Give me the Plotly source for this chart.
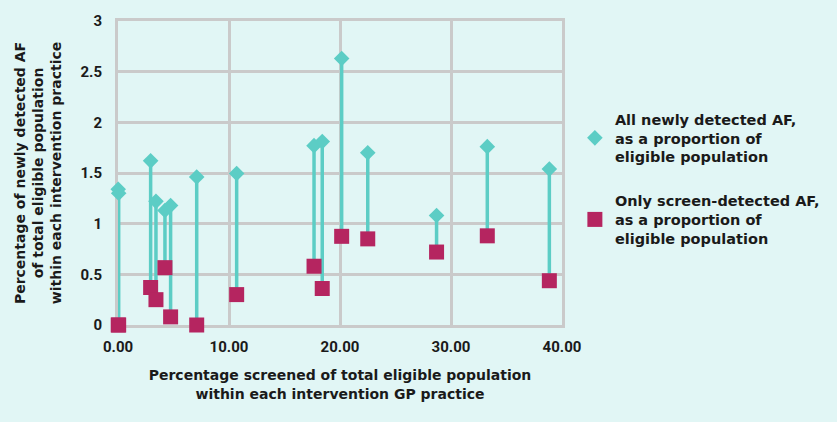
import plotly.graph_objects as go

# Percentage screened of eligible population (x)
pct_screened = [0.02, 0.06, 2.94, 3.42, 4.23, 4.74, 7.09, 10.69, 17.66, 18.40, 20.15, 22.50, 28.70, 33.27, 38.86]
# All newly detected AF (% of eligible population)
all_af = [1.34, 1.30, 1.62, 1.22, 1.13, 1.18, 1.46, 1.495, 1.77, 1.81, 2.63, 1.70, 1.08, 1.76, 1.54]
# Only screen-detected AF (% of eligible population)
screen_af = [0.0, 0.0, 0.37, 0.25, 0.566, 0.08, 0.0, 0.30, 0.58, 0.36, 0.875, 0.85, 0.72, 0.88, 0.437]

x_ticks = [0, 10, 20, 30, 40]
x_tick_labels = ["0.00", "10.00", "20.00", "30.00", "40.00"]
y_ticks = [0, 0.5, 1, 1.5, 2, 2.5, 3]
y_tick_labels = ["0", "0.5", "1", "1.5", "2", "2.5", "3"]

TEAL = "#5ccdc5"
MAGENTA = "#b52560"
BG = "#e1f6f5"
GRID = "#cacaca"
FONT = "DejaVu Sans"
TICKFONT = "Roboto"
TXT = "#1a1a1a"

stem_x, stem_y = [], []
for xv, a, s in zip(pct_screened, all_af, screen_af):
    stem_x += [xv, xv, None]
    stem_y += [s, a, None]

fig = go.Figure()
fig.add_trace(go.Scatter(x=stem_x, y=stem_y, mode="lines",
                         line=dict(color=TEAL, width=3.5),
                         showlegend=False, hoverinfo="skip", cliponaxis=False))
fig.add_trace(go.Scatter(x=pct_screened, y=all_af, mode="markers",
                         marker=dict(symbol="diamond", size=12, color=TEAL),
                         name="All newly detected AF,<br>as a proportion of<br>eligible population",
                         legendgroup="a", cliponaxis=False))
fig.add_trace(go.Scatter(x=pct_screened, y=screen_af, mode="markers",
                         marker=dict(symbol="square", size=15, color=MAGENTA),
                         name="Only screen-detected AF,<br>as a proportion of<br>eligible population",
                         legendgroup="b", cliponaxis=False))

fig.update_layout(
    width=837, height=422,
    margin=dict(l=118, r=275, t=16, b=97),
    paper_bgcolor=BG, plot_bgcolor=BG,
    font=dict(family=FONT, size=14, color=TXT, weight="bold"),
    showlegend=True,
    legend=dict(x=1.029, y=0.73, xanchor="left", yanchor="top",
                bgcolor="rgba(0,0,0,0)", tracegroupgap=22,
                font=dict(family=FONT, size=14.5, color=TXT, weight="bold"),
                itemwidth=30),
    xaxis=dict(range=[0, 40], tickvals=x_ticks, ticktext=x_tick_labels,
               showgrid=True, gridcolor=GRID, gridwidth=3,
               showline=True, linecolor=GRID, linewidth=3, mirror=True,
               zeroline=False, ticks="", ticklen=0, layer="below traces",
               ticklabelstandoff=6,
               tickfont=dict(family=TICKFONT, size=15, color=TXT, weight="bold"),
               title=dict(text="Percentage screened of total eligible population<br>within each intervention GP practice",
                          font=dict(family=FONT, size=14, color=TXT, weight="bold"), standoff=16)),
    yaxis=dict(range=[0, 3], tickvals=y_ticks, ticktext=y_tick_labels,
               showgrid=True, gridcolor=GRID, gridwidth=3,
               showline=True, linecolor=GRID, linewidth=3, mirror=True,
               zeroline=False, ticks="", ticklen=0, layer="below traces",
               ticklabelstandoff=10,
               tickfont=dict(family=TICKFONT, size=15, color=TXT, weight="bold"),
               title=dict(text="Percentage of newly detected AF<br>of total eligible population<br>within each intervention practice",
                          font=dict(family=FONT, size=14, color=TXT, weight="bold"), standoff=16)),
)

fig.write_html("out.html", config={"displayModeBar": False},
               post_script="document.body.style.margin='0';document.body.style.background='#e1f6f5';")
